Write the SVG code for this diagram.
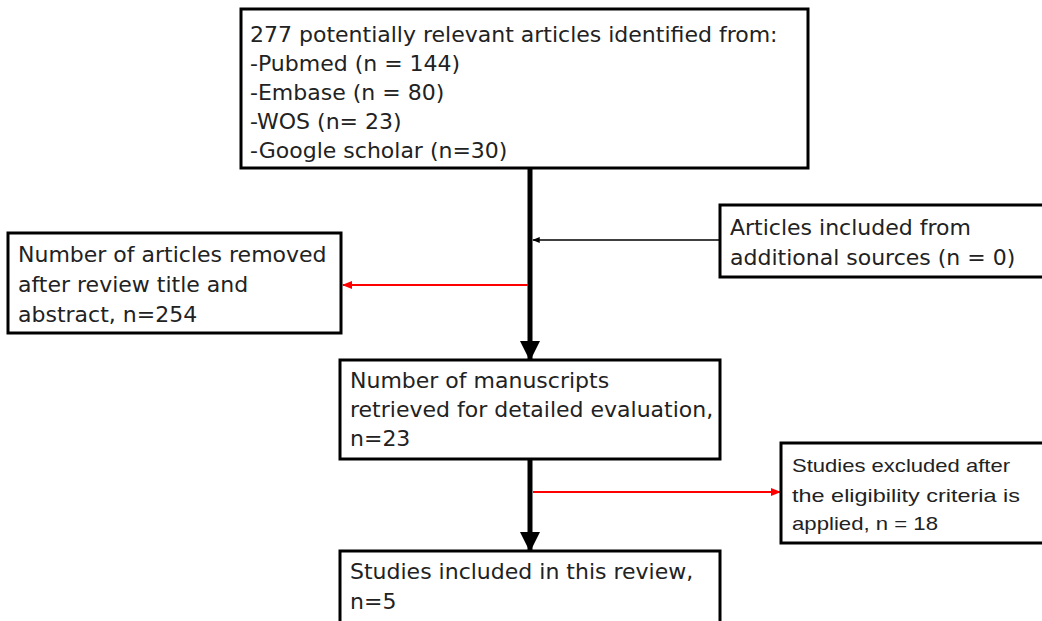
<svg xmlns="http://www.w3.org/2000/svg" width="1042" height="621" viewBox="0 0 1042 621">
<defs>
<style>
.box{fill:#fff;stroke:#000;stroke-width:3}
.t{font-family:"DejaVu Sans",sans-serif;font-size:22px;fill:#222}
.s{font-family:"Liberation Sans",sans-serif;font-size:19px;fill:#222}
</style>
<marker id="ab" viewBox="0 0 10 10" refX="9" refY="5" markerWidth="4" markerHeight="4" orient="auto" markerUnits="strokeWidth"><path d="M0,0L10,5L0,10z" fill="#000"/></marker>
<marker id="as" viewBox="0 0 10 10" refX="9" refY="5" markerWidth="5" markerHeight="5" orient="auto" markerUnits="strokeWidth"><path d="M0,1L10,5L0,9z" fill="#000"/></marker>
<marker id="ar" viewBox="0 0 10 10" refX="9" refY="5" markerWidth="5" markerHeight="5" orient="auto" markerUnits="strokeWidth"><path d="M0,1L10,5L0,9z" fill="#f00"/></marker>
</defs>
<g id="connectors">
<line x1="530" y1="168" x2="530" y2="359" stroke="#000" stroke-width="5" marker-end="url(#ab)"/>
<line x1="530" y1="459" x2="530" y2="550" stroke="#000" stroke-width="5" marker-end="url(#ab)"/>
<line x1="720" y1="240" x2="533" y2="240" stroke="#000" stroke-width="1.5" marker-end="url(#as)"/>
<line x1="528" y1="285" x2="343" y2="285" stroke="#f00" stroke-width="2" marker-end="url(#ar)"/>
<line x1="533" y1="492" x2="780" y2="492" stroke="#f00" stroke-width="2" marker-end="url(#ar)"/>
</g>
<g id="n1"><rect class="box" x="241" y="9" width="567" height="159"/>
<text class="t" x="250" y="42">277 potentially relevant articles identified from:</text>
<text class="t" x="250" y="71">-Pubmed (n = 144)</text>
<text class="t" x="250" y="100">-Embase (n = 80)</text>
<text class="t" x="250" y="129">-WOS (n= 23)</text>
<text class="t" x="250" y="158">-Google scholar (n=30)</text></g>
<g id="n2"><rect class="box" x="8" y="233" width="333" height="100"/>
<text class="t" x="18" y="262">Number of articles removed</text>
<text class="t" x="18" y="292">after review title and</text>
<text class="t" x="18" y="322">abstract, n=254</text></g>
<g id="n3"><rect class="box" x="720" y="205" width="330" height="72"/>
<text class="t" x="730" y="235">Articles included from</text>
<text class="t" x="730" y="265">additional sources (n = 0)</text></g>
<g id="n4"><rect class="box" x="340" y="360" width="380" height="99"/>
<text class="t" x="350" y="388">Number of manuscripts</text>
<text class="t" x="350" y="417">retrieved for detailed evaluation,</text>
<text class="t" x="350" y="446">n=23</text></g>
<g id="n5"><rect class="box" x="781" y="443" width="270" height="100"/>
<text class="s" x="792" y="472" textLength="218" lengthAdjust="spacingAndGlyphs">Studies excluded after</text>
<text class="s" x="792" y="502" textLength="228" lengthAdjust="spacingAndGlyphs">the eligibility criteria is</text>
<text class="s" x="792" y="530" textLength="146" lengthAdjust="spacingAndGlyphs">applied, n = 18</text></g>
<g id="n6"><rect class="box" x="340" y="551" width="380" height="80"/>
<text class="t" x="350" y="579">Studies included in this review,</text>
<text class="t" x="350" y="609">n=5</text></g>
</svg>
